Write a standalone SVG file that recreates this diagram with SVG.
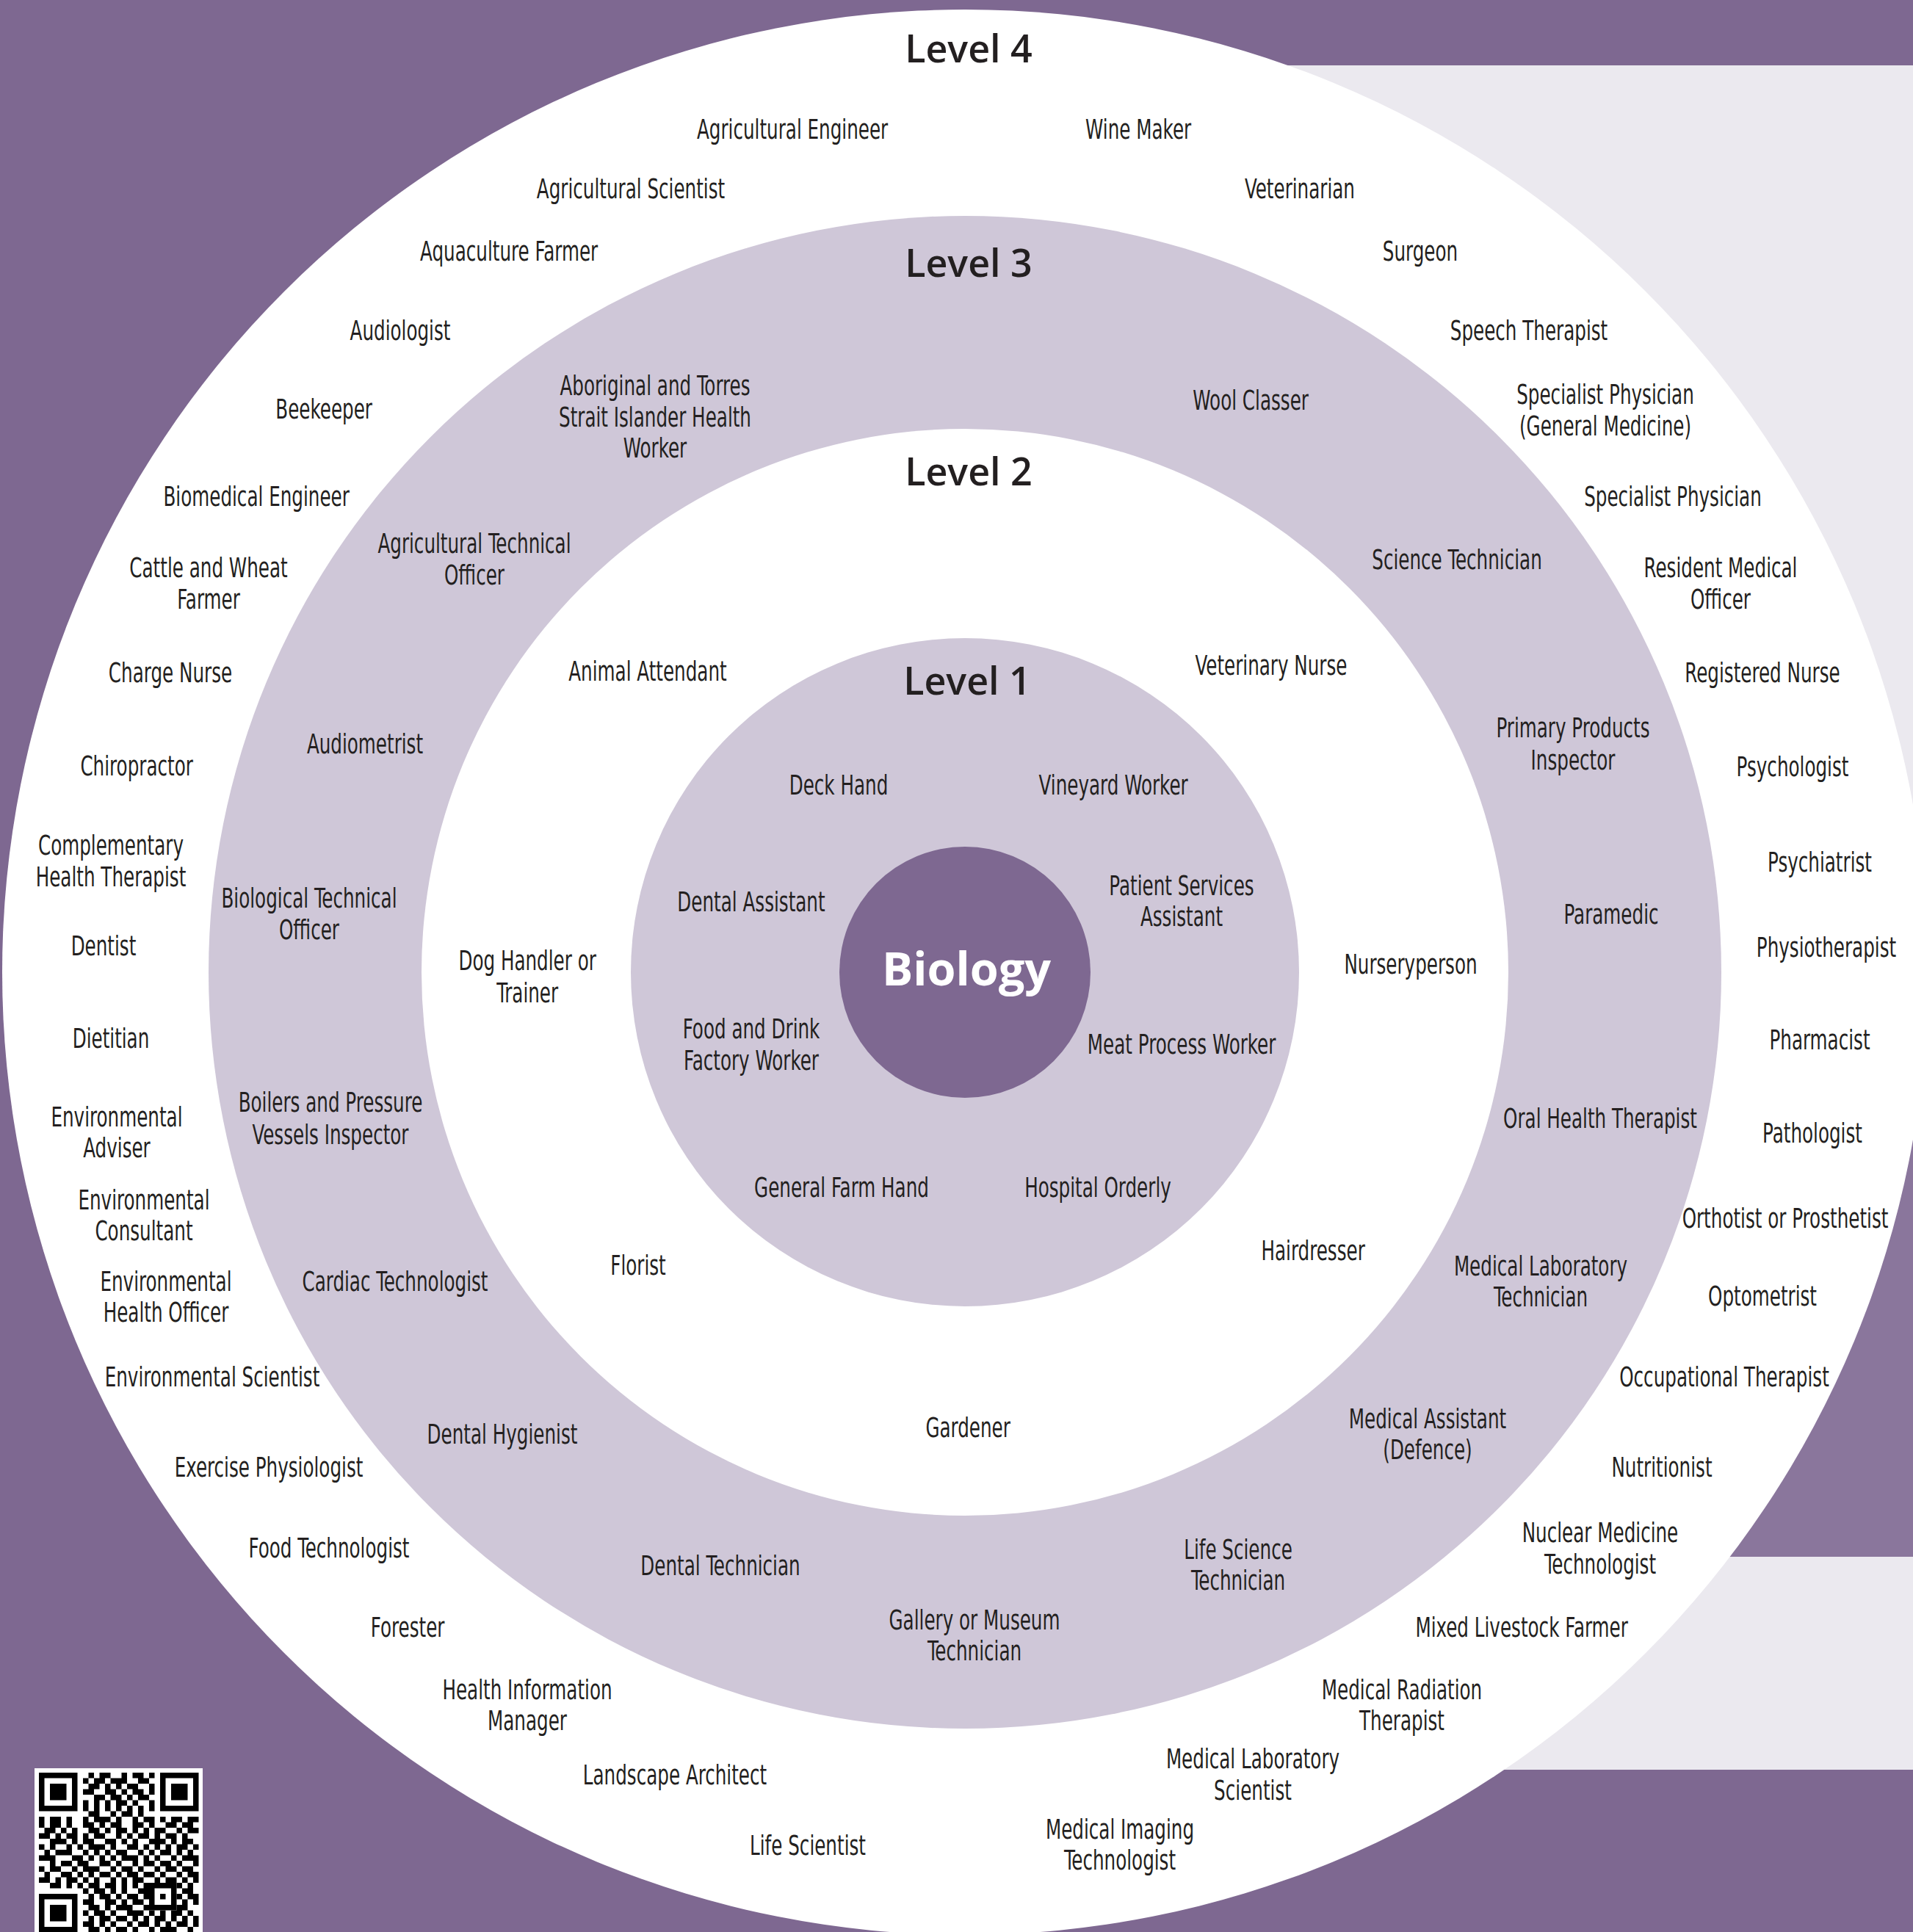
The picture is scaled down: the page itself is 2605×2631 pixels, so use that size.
<svg xmlns="http://www.w3.org/2000/svg" width="2605" height="2631" viewBox="0 0 2605 2631">
<style>
.t{font-family:"Liberation Sans Narrow","Arial Narrow","DejaVu Sans Condensed",sans-serif;font-stretch:condensed;font-size:37px;fill:#231f20;text-anchor:middle;transform-box:fill-box;transform-origin:50% 50%;transform:scaleX(0.74)}
.h{font-family:"Open Sans","Liberation Sans",sans-serif;font-weight:600;font-size:52px;fill:#231f20;text-anchor:middle}
.b{font-family:"Open Sans","Liberation Sans",sans-serif;font-weight:700;font-size:63px;fill:#ffffff;text-anchor:middle}
.dk{fill:#7e6891}.lt{fill:#cfc7d8}.wh{fill:#ffffff}
</style>
<g id="background">
<rect x="0" y="0" width="2605" height="2631" class="dk"/>
<rect x="1700" y="89" width="905" height="2321" fill="#ebe9ef"/>
<rect x="2000" y="1324" width="605" height="796" fill="#8a769c"/>
</g>
<g id="rings">
<circle cx="1314" cy="1324" r="1311" class="wh"/>
<circle cx="1314" cy="1324" r="1030" class="lt"/>
<circle cx="1314" cy="1324" r="740" class="wh"/>
<circle cx="1314" cy="1324" r="455" class="lt"/>
<circle cx="1314" cy="1324" r="171" class="dk"/>
</g>
<g id="qr">
<rect x="47" y="2408" width="229" height="223" fill="#ffffff"/>
<g transform="translate(53 2414) scale(7.5)" fill="#000000">
<rect x="0" y="0" width="7" height="7"/><rect x="1" y="1" width="5" height="5" fill="#fff"/><rect x="2" y="2" width="3" height="3"/>
<rect x="22" y="0" width="7" height="7"/><rect x="23" y="1" width="5" height="5" fill="#fff"/><rect x="24" y="2" width="3" height="3"/>
<rect x="0" y="22" width="7" height="7"/><rect x="1" y="23" width="5" height="5" fill="#fff"/><rect x="2" y="24" width="3" height="3"/>
<path d="M9 0h1v1h-1zM11 0h2v1h-2zM15 0h1v1h-1zM17 0h2v1h-2zM20 0h1v1h-1z
M8 1h1v1h-1zM10 1h2v1h-2zM13 1h3v1h-3zM18 1h2v1h-2z
M9 2h2v1h-2zM12 2h1v1h-1zM14 2h1v1h-1zM16 2h2v1h-2zM20 2h1v1h-1z
M8 3h2v1h-2zM12 3h2v1h-2zM15 3h1v1h-1zM17 3h2v1h-2zM20 3h1v1h-1z
M10 4h2v1h-2zM13 4h2v1h-2zM16 4h1v1h-1zM18 4h2v1h-2z
M8 5h1v1h-1zM10 5h1v1h-1zM12 5h1v1h-1zM14 5h2v1h-2zM17 5h1v1h-1zM20 5h1v1h-1z
M8 6h1v1h-1zM10 6h1v1h-1zM12 6h1v1h-1zM14 6h1v1h-1zM16 6h1v1h-1zM18 6h1v1h-1zM20 6h1v1h-1z
M9 7h2v1h-2zM13 7h1v1h-1zM15 7h2v1h-2zM18 7h1v1h-1z
M0 8h1v1h-1zM2 8h2v1h-2zM5 8h1v1h-1zM8 8h1v1h-1zM10 8h3v1h-3zM14 8h1v1h-1zM17 8h1v1h-1zM19 8h2v1h-2zM22 8h1v1h-1zM24 8h2v1h-2zM27 8h2v1h-2z
M0 9h1v1h-1zM2 9h2v1h-2zM5 9h1v1h-1zM8 9h2v1h-2zM11 9h1v1h-1zM13 9h2v1h-2zM17 9h2v1h-2zM20 9h1v1h-1zM23 9h2v1h-2zM26 9h2v1h-2z
M1 10h2v1h-2zM4 10h1v1h-1zM6 10h1v1h-1zM9 10h2v1h-2zM12 10h1v1h-1zM14 10h2v1h-2zM17 10h1v1h-1zM19 10h1v1h-1zM21 10h2v1h-2zM25 10h1v1h-1zM27 10h2v1h-2z
M0 11h2v1h-2zM3 11h1v1h-1zM5 11h2v1h-2zM8 11h1v1h-1zM10 11h2v1h-2zM14 11h1v1h-1zM16 11h1v1h-1zM18 11h2v1h-2zM21 11h1v1h-1zM23 11h2v1h-2zM26 11h1v1h-1z
M2 12h3v1h-3zM6 12h1v1h-1zM8 12h2v1h-2zM12 12h2v1h-2zM15 12h1v1h-1zM17 12h1v1h-1zM20 12h3v1h-3zM24 12h1v1h-1zM26 12h2v1h-2z
M0 13h1v1h-1zM2 13h1v1h-1zM5 13h1v1h-1zM7 13h1v1h-1zM9 13h3v1h-3zM13 13h1v1h-1zM16 13h2v1h-2zM19 13h1v1h-1zM21 13h1v1h-1zM23 13h1v1h-1zM25 13h2v1h-2zM28 13h1v1h-1z
M1 14h1v1h-1zM3 14h3v1h-3zM8 14h1v1h-1zM10 14h1v1h-1zM12 14h1v1h-1zM14 14h2v1h-2zM18 14h1v1h-1zM20 14h1v1h-1zM22 14h2v1h-2zM25 14h1v1h-1zM27 14h1v1h-1z
M0 15h3v1h-3zM6 15h2v1h-2zM9 15h1v1h-1zM11 15h1v1h-1zM13 15h1v1h-1zM15 15h3v1h-3zM19 15h1v1h-1zM21 15h1v1h-1zM24 15h1v1h-1zM26 15h3v1h-3z
M2 16h1v1h-1zM4 16h2v1h-2zM7 16h2v1h-2zM11 16h2v1h-2zM14 16h1v1h-1zM17 16h1v1h-1zM19 16h2v1h-2zM22 16h2v1h-2zM25 16h1v1h-1zM28 16h1v1h-1z
M0 17h1v1h-1zM2 17h2v1h-2zM6 17h1v1h-1zM8 17h3v1h-3zM13 17h1v1h-1zM15 17h2v1h-2zM18 17h1v1h-1zM21 17h1v1h-1zM23 17h2v1h-2zM26 17h2v1h-2z
M1 18h1v1h-1zM4 18h2v1h-2zM7 18h1v1h-1zM9 18h1v1h-1zM11 18h2v1h-2zM14 18h1v1h-1zM16 18h2v1h-2zM19 18h2v1h-2zM22 18h1v1h-1zM25 18h1v1h-1zM27 18h2v1h-2z
M0 19h2v1h-2zM3 19h1v1h-1zM5 19h2v1h-2zM8 19h1v1h-1zM10 19h1v1h-1zM13 19h1v1h-1zM15 19h1v1h-1zM17 19h2v1h-2zM21 19h1v1h-1zM23 19h2v1h-2zM26 19h1v1h-1zM28 19h1v1h-1z
M2 20h2v1h-2zM5 20h1v1h-1zM7 20h1v1h-1zM9 20h2v1h-2zM12 20h2v1h-2zM15 20h1v1h-1zM17 20h1v1h-1zM19 20h1v1h-1zM25 20h1v1h-1zM27 20h1v1h-1z
M8 21h1v1h-1zM10 21h2v1h-2zM13 21h1v1h-1zM15 21h1v1h-1zM18 21h2v1h-2zM26 21h2v1h-2z
M9 22h1v1h-1zM11 22h2v1h-2zM14 22h1v1h-1zM16 22h2v1h-2zM19 22h1v1h-1zM25 22h1v1h-1zM27 22h2v1h-2z
M8 23h2v1h-2zM12 23h2v1h-2zM15 23h1v1h-1zM17 23h2v1h-2zM26 23h1v1h-1zM28 23h1v1h-1z
M9 24h2v1h-2zM12 24h1v1h-1zM14 24h3v1h-3zM19 24h1v1h-1zM25 24h2v1h-2z
M8 25h1v1h-1zM10 25h2v1h-2zM13 25h1v1h-1zM16 25h3v1h-3zM20 25h1v1h-1zM22 25h1v1h-1zM24 25h2v1h-2zM27 25h1v1h-1z
M9 26h1v1h-1zM11 26h2v1h-2zM14 26h2v1h-2zM17 26h1v1h-1zM19 26h1v1h-1zM21 26h2v1h-2zM24 26h1v1h-1zM26 26h1v1h-1zM28 26h1v1h-1z
M8 27h2v1h-2zM11 27h1v1h-1zM13 27h1v1h-1zM16 27h1v1h-1zM18 27h2v1h-2zM21 27h1v1h-1zM23 27h1v1h-1zM25 27h2v1h-2zM28 27h1v1h-1z
M9 28h2v1h-2zM12 28h1v1h-1zM14 28h2v1h-2zM17 28h1v1h-1zM20 28h1v1h-1zM22 28h3v1h-3zM27 28h1v1h-1z"/>
<rect x="20" y="20" width="5" height="5"/><rect x="21" y="21" width="3" height="3" fill="#fff"/><rect x="22" y="22" width="1" height="1"/>
</g>
</g>
<g id="connectors"></g>
<g id="headings">
<text id="level4" class="h" x="1319" y="85">Level 4</text>
<text id="level3" class="h" x="1319" y="377">Level 3</text>
<text id="level2" class="h" x="1319" y="661">Level 2</text>
<text id="level1" class="h" x="1317" y="946">Level 1</text>
<text id="biology" class="b" x="1316" y="1342">Biology</text>
</g>
<g id="level4-jobs">
<g id="n-agri-eng"><text class="t" x="1079" y="189">Agricultural Engineer</text></g>
<g id="n-wine"><text class="t" x="1550" y="189">Wine Maker</text></g>
<g id="n-agri-sci"><text class="t" x="859" y="270">Agricultural Scientist</text></g>
<g id="n-vet"><text class="t" x="1770" y="270">Veterinarian</text></g>
<g id="n-aqua"><text class="t" x="693" y="355">Aquaculture Farmer</text></g>
<g id="n-surgeon"><text class="t" x="1934" y="355">Surgeon</text></g>
<g id="n-audiologist"><text class="t" x="545" y="463">Audiologist</text></g>
<g id="n-speech"><text class="t" x="2082" y="463">Speech Therapist</text></g>
<g id="n-bee"><text class="t" x="441" y="570">Beekeeper</text></g>
<g id="n-spec-gm"><text class="t" x="2186" y="550">Specialist Physician<tspan x="2186" dy="43">(General Medicine)</tspan></text></g>
<g id="n-biomed"><text class="t" x="349" y="689">Biomedical Engineer</text></g>
<g id="n-spec"><text class="t" x="2278" y="689">Specialist Physician</text></g>
<g id="n-cattle"><text class="t" x="284" y="786">Cattle and Wheat<tspan x="284" dy="43">Farmer</tspan></text></g>
<g id="n-resident"><text class="t" x="2343" y="786">Resident Medical<tspan x="2343" dy="43">Officer</tspan></text></g>
<g id="n-charge"><text class="t" x="232" y="929">Charge Nurse</text></g>
<g id="n-registered"><text class="t" x="2400" y="929">Registered Nurse</text></g>
<g id="n-chiro"><text class="t" x="186" y="1056">Chiropractor</text></g>
<g id="n-psycho"><text class="t" x="2441" y="1057">Psychologist</text></g>
<g id="n-comp"><text class="t" x="151" y="1164">Complementary<tspan x="151" dy="43">Health Therapist</tspan></text></g>
<g id="n-psychiatrist"><text class="t" x="2478" y="1187">Psychiatrist</text></g>
<g id="n-dentist"><text class="t" x="141" y="1301">Dentist</text></g>
<g id="n-physio"><text class="t" x="2487" y="1303">Physiotherapist</text></g>
<g id="n-dietitian"><text class="t" x="151" y="1427">Dietitian</text></g>
<g id="n-pharm"><text class="t" x="2478" y="1429">Pharmacist</text></g>
<g id="n-env-adv"><text class="t" x="159" y="1534">Environmental<tspan x="159" dy="42">Adviser</tspan></text></g>
<g id="n-path"><text class="t" x="2468" y="1556">Pathologist</text></g>
<g id="n-env-con"><text class="t" x="196" y="1647">Environmental<tspan x="196" dy="42">Consultant</tspan></text></g>
<g id="n-orth"><text class="t" x="2431" y="1672">Orthotist or Prosthetist</text></g>
<g id="n-env-ho"><text class="t" x="226" y="1758">Environmental<tspan x="226" dy="42">Health Officer</tspan></text></g>
<g id="n-opto"><text class="t" x="2400" y="1778">Optometrist</text></g>
<g id="n-env-sci"><text class="t" x="289" y="1888">Environmental Scientist</text></g>
<g id="n-occ"><text class="t" x="2348" y="1888">Occupational Therapist</text></g>
<g id="n-exer"><text class="t" x="366" y="2011">Exercise Physiologist</text></g>
<g id="n-nutri"><text class="t" x="2263" y="2011">Nutritionist</text></g>
<g id="n-food-tech"><text class="t" x="448" y="2121">Food Technologist</text></g>
<g id="n-nuclear"><text class="t" x="2179" y="2100">Nuclear Medicine<tspan x="2179" dy="43">Technologist</tspan></text></g>
<g id="n-forester"><text class="t" x="555" y="2229">Forester</text></g>
<g id="n-mixed"><text class="t" x="2072" y="2229">Mixed Livestock Farmer</text></g>
<g id="n-health-info"><text class="t" x="718" y="2314">Health Information<tspan x="718" dy="42">Manager</tspan></text></g>
<g id="n-med-rad"><text class="t" x="1909" y="2314">Medical Radiation<tspan x="1909" dy="42">Therapist</tspan></text></g>
<g id="n-landscape"><text class="t" x="919" y="2430">Landscape Architect</text></g>
<g id="n-med-lab-sci"><text class="t" x="1706" y="2408">Medical Laboratory<tspan x="1706" dy="43">Scientist</tspan></text></g>
<g id="n-life-sci"><text class="t" x="1100" y="2526">Life Scientist</text></g>
<g id="n-med-img"><text class="t" x="1525" y="2504">Medical Imaging<tspan x="1525" dy="42">Technologist</tspan></text></g>
</g>
<g id="level3-jobs">
<g id="n-aboriginal"><text class="t" x="892" y="538">Aboriginal and Torres<tspan x="892" dy="43">Strait Islander Health</tspan><tspan x="892" dy="42">Worker</tspan></text></g>
<g id="n-wool"><text class="t" x="1703" y="558">Wool Classer</text></g>
<g id="n-agri-tech"><text class="t" x="646" y="753">Agricultural Technical<tspan x="646" dy="43">Officer</tspan></text></g>
<g id="n-sci-tech"><text class="t" x="1984" y="775">Science Technician</text></g>
<g id="n-audiometrist"><text class="t" x="497" y="1026">Audiometrist</text></g>
<g id="n-primary"><text class="t" x="2142" y="1004">Primary Products<tspan x="2142" dy="44">Inspector</tspan></text></g>
<g id="n-bio-tech"><text class="t" x="421" y="1236">Biological Technical<tspan x="421" dy="43">Officer</tspan></text></g>
<g id="n-paramedic"><text class="t" x="2194" y="1258">Paramedic</text></g>
<g id="n-boilers"><text class="t" x="450" y="1514">Boilers and Pressure<tspan x="450" dy="44">Vessels Inspector</tspan></text></g>
<g id="n-oral"><text class="t" x="2179" y="1536">Oral Health Therapist</text></g>
<g id="n-cardiac"><text class="t" x="538" y="1758">Cardiac Technologist</text></g>
<g id="n-med-lab-tech"><text class="t" x="2098" y="1737">Medical Laboratory<tspan x="2098" dy="42">Technician</tspan></text></g>
<g id="n-dent-hyg"><text class="t" x="684" y="1966">Dental Hygienist</text></g>
<g id="n-med-asst"><text class="t" x="1944" y="1945">Medical Assistant<tspan x="1944" dy="42">(Defence)</tspan></text></g>
<g id="n-dent-tech"><text class="t" x="981" y="2145">Dental Technician</text></g>
<g id="n-life-tech"><text class="t" x="1686" y="2123">Life Science<tspan x="1686" dy="42">Technician</tspan></text></g>
<g id="n-gallery"><text class="t" x="1327" y="2219">Gallery or Museum<tspan x="1327" dy="42">Technician</tspan></text></g>
</g>
<g id="level2-jobs">
<g id="n-animal"><text class="t" x="882" y="927">Animal Attendant</text></g>
<g id="n-vet-nurse"><text class="t" x="1731" y="919">Veterinary Nurse</text></g>
<g id="n-dog"><text class="t" x="718" y="1321">Dog Handler or<tspan x="718" dy="44">Trainer</tspan></text></g>
<g id="n-nursery"><text class="t" x="1921" y="1326">Nurseryperson</text></g>
<g id="n-florist"><text class="t" x="869" y="1736">Florist</text></g>
<g id="n-hair"><text class="t" x="1788" y="1716">Hairdresser</text></g>
<g id="n-gardener"><text class="t" x="1318" y="1957">Gardener</text></g>
</g>
<g id="level1-jobs">
<g id="n-deck"><text class="t" x="1142" y="1082">Deck Hand</text></g>
<g id="n-vineyard"><text class="t" x="1516" y="1082">Vineyard Worker</text></g>
<g id="n-dent-asst"><text class="t" x="1023" y="1241">Dental Assistant</text></g>
<g id="n-patient"><text class="t" x="1609" y="1219">Patient Services<tspan x="1609" dy="42">Assistant</tspan></text></g>
<g id="n-food-drink"><text class="t" x="1023" y="1414">Food and Drink<tspan x="1023" dy="43">Factory Worker</tspan></text></g>
<g id="n-meat"><text class="t" x="1609" y="1435">Meat Process Worker</text></g>
<g id="n-farm-hand"><text class="t" x="1146" y="1630">General Farm Hand</text></g>
<g id="n-hospital"><text class="t" x="1495" y="1630">Hospital Orderly</text></g>
</g>
</svg>
